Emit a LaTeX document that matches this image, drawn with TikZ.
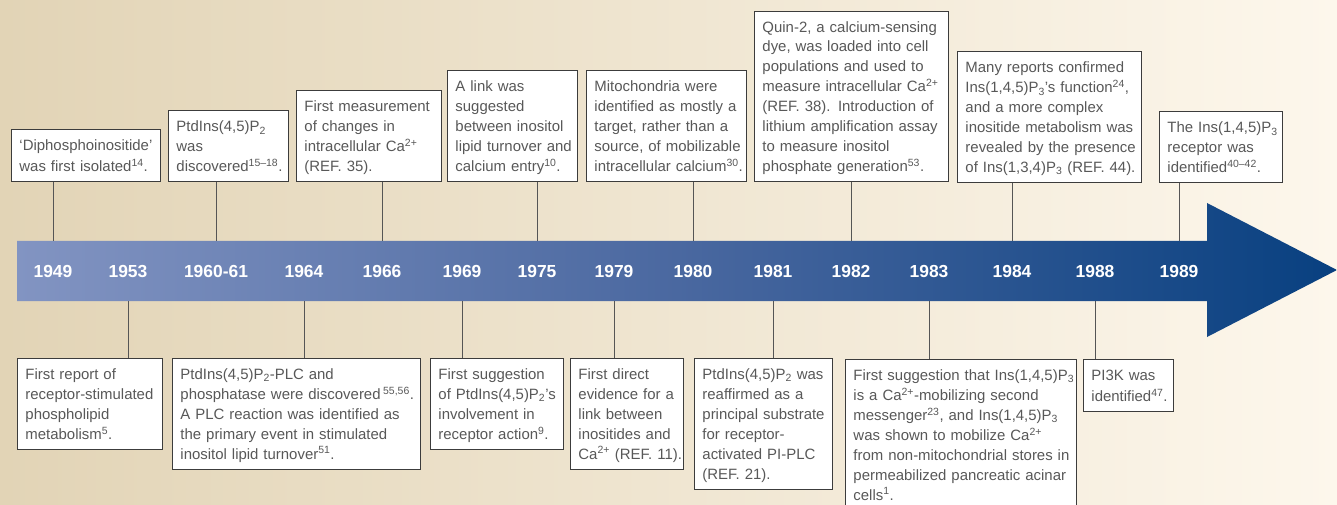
\documentclass[tikz,border=0pt]{standalone}
\usepackage{fontspec}
\setmainfont{Liberation Sans}
\setsansfont{Liberation Sans}
\usepackage{xcolor}
\usepackage{tikz}

\definecolor{sandleft}{RGB}{226,212,182}
\definecolor{sandright}{RGB}{253,247,236}
\definecolor{barleft}{RGB}{130,148,194}
\definecolor{barmid}{RGB}{74,104,160}
\definecolor{barright}{RGB}{8,64,128}
\definecolor{boxline}{RGB}{60,60,60}
\definecolor{stemline}{RGB}{85,85,85}
\definecolor{notetext}{RGB}{88,88,88}

\newcommand{\notestrut}{\rule[-4.5bp]{0pt}{20bp}}

\begin{document}
\begin{tikzpicture}[x=1bp, y=-1bp,
        note/.style={draw=boxline, line width=0.9bp, fill=white, text=notetext, align=left, inner xsep=8bp, inner ysep=5.5bp, font=\fontsize{15}{20}\selectfont, execute at begin node={\rightskip=-100bp plus 1fil\hyphenpenalty=10000\notestrut}, execute at end node=\notestrut},
        year/.style={anchor=base, text=white, font=\fontsize{17.5}{20}\selectfont\bfseries},
        stem/.style={draw=stemline, line width=0.9bp}]
        \shade[left color=sandleft, right color=sandright] (0,0) rectangle (1337,505);
        \useasboundingbox (0,0) rectangle (1337,505);

        \shade[left color=barleft, right color=barright, middle color=barmid] (17,241) -- (1207,241) -- (1207,203) -- (1337,270) -- (1207,337) -- (1207,301) -- (17,301) -- cycle;
        \coordinate (bartop) at (0,241);
        \coordinate (barbot) at (0,301);

        \node[year] (y1949) at (53,277) {1949};
        \node[year] (y1953) at (128,277) {1953};
        \node[year] (y1960) at (216,277) {1960-61};
        \node[year] (y1964) at (304,277) {1964};
        \node[year] (y1966) at (382,277) {1966};
        \node[year] (y1969) at (462,277) {1969};
        \node[year] (y1975) at (537,277) {1975};
        \node[year] (y1979) at (614,277) {1979};
        \node[year] (y1980) at (693,277) {1980};
        \node[year] (y1981) at (773,277) {1981};
        \node[year] (y1982) at (851,277) {1982};
        \node[year] (y1983) at (929,277) {1983};
        \node[year] (y1984) at (1012,277) {1984};
        \node[year] (y1988) at (1095,277) {1988};
        \node[year] (y1989) at (1179,277) {1989};

        \node[note, anchor=south west, text width=133bp] (n1949) at (11,182) {`Diphosphoinositide'\\was first isolated\textsuperscript{14}.};
        \node[note, anchor=south west, text width=104bp] (n1960) at (168,182) {PtdIns(4,5)P\textsubscript{2}\\was\\discovered\textsuperscript{15--18}.};
        \node[note, anchor=south west, text width=129bp] (n1966) at (296,182) {First measurement\\of changes in\\intracellular Ca\textsuperscript{2+}\\(REF. 35).};
        \node[note, anchor=south west, text width=114bp] (n1975) at (447,182) {A link was\\suggested\\between inositol\\lipid turnover and\\calcium entry\textsuperscript{10}.};
        \node[note, anchor=south west, text width=144bp] (n1980) at (586,182) {Mitochondria were\\identified as mostly a\\target, rather than a\\source, of mobilizable\\intracellular calcium\textsuperscript{30}.};
        \node[note, anchor=south west, text width=178bp] (n1982) at (754,182) {Quin-2, a calcium-sensing\\dye, was loaded into cell\\populations and used to\\measure intracellular Ca\textsuperscript{2+}\\(REF. 38). Introduction of\\lithium amplification assay\\to measure inositol\\phosphate generation\textsuperscript{53}.};
        \node[note, anchor=south west, text width=168bp] (n1984) at (957,183) {Many reports confirmed\\Ins(1,4,5)P\textsubscript{3}'s function\textsuperscript{24},\\and a more complex\\inositide metabolism was\\revealed by the presence\\of Ins(1,3,4)P\textsubscript{3} (REF. 44).};
        \node[note, anchor=south west, text width=107bp] (n1989) at (1159,183) {The Ins(1,4,5)P\textsubscript{3}\\receptor was\\identified\textsuperscript{40--42}.};

        \node[note, anchor=north west, text width=129bp] (n1953) at (17,358) {First report of\\receptor-stimulated\\phospholipid\\metabolism\textsuperscript{5}.};
        \node[note, anchor=north west, text width=232bp] (n1964) at (172,358) {PtdIns(4,5)P\textsubscript{2}-PLC and\\phosphatase were discovered\,\textsuperscript{55,56}.\\A PLC reaction was identified as\\the primary event in stimulated\\inositol lipid turnover\textsuperscript{51}.};
        \node[note, anchor=north west, text width=117bp] (n1969) at (430,358) {First suggestion\\of PtdIns(4,5)P\textsubscript{2}'s\\involvement in\\receptor action\textsuperscript{9}.};
        \node[note, anchor=north west, text width=97bp] (n1979) at (570,358) {First direct\\evidence for a\\link between\\inositides and\\Ca\textsuperscript{2+} (REF. 11).};
        \node[note, anchor=north west, text width=122bp] (n1981) at (694,358) {PtdIns(4,5)P\textsubscript{2} was\\reaffirmed as a\\principal substrate\\for receptor-\\activated PI-PLC\\(REF. 21).};
        \node[note, anchor=north west, text width=215bp] (n1983) at (845,359) {First suggestion that Ins(1,4,5)P\textsubscript{3}\\is a Ca\textsuperscript{2+}-mobilizing second\\messenger\textsuperscript{23}, and Ins(1,4,5)P\textsubscript{3}\\was shown to mobilize Ca\textsuperscript{2+}\\from non-mitochondrial stores in\\permeabilized pancreatic acinar\\cells\textsuperscript{1}.};
        \node[note, anchor=north west, text width=74bp] (n1988) at (1083,359) {PI3K was\\identified\textsuperscript{47}.};

        \draw[stem] (n1949.south -| y1949) -- (y1949 |- bartop);
        \draw[stem] (n1960.south -| y1960) -- (y1960 |- bartop);
        \draw[stem] (n1966.south -| y1966) -- (y1966 |- bartop);
        \draw[stem] (n1975.south -| y1975) -- (y1975 |- bartop);
        \draw[stem] (n1980.south -| y1980) -- (y1980 |- bartop);
        \draw[stem] (n1982.south -| y1982) -- (y1982 |- bartop);
        \draw[stem] (n1984.south -| y1984) -- (y1984 |- bartop);
        \draw[stem] (n1989.south -| y1989) -- (y1989 |- bartop);

        \draw[stem] (y1953 |- barbot) -- (n1953.north -| y1953);
        \draw[stem] (y1964 |- barbot) -- (n1964.north -| y1964);
        \draw[stem] (y1969 |- barbot) -- (n1969.north -| y1969);
        \draw[stem] (y1979 |- barbot) -- (n1979.north -| y1979);
        \draw[stem] (y1981 |- barbot) -- (n1981.north -| y1981);
        \draw[stem] (y1983 |- barbot) -- (n1983.north -| y1983);
        \draw[stem] (y1988 |- barbot) -- (n1988.north -| y1988);
    \end{tikzpicture}
\end{document}
